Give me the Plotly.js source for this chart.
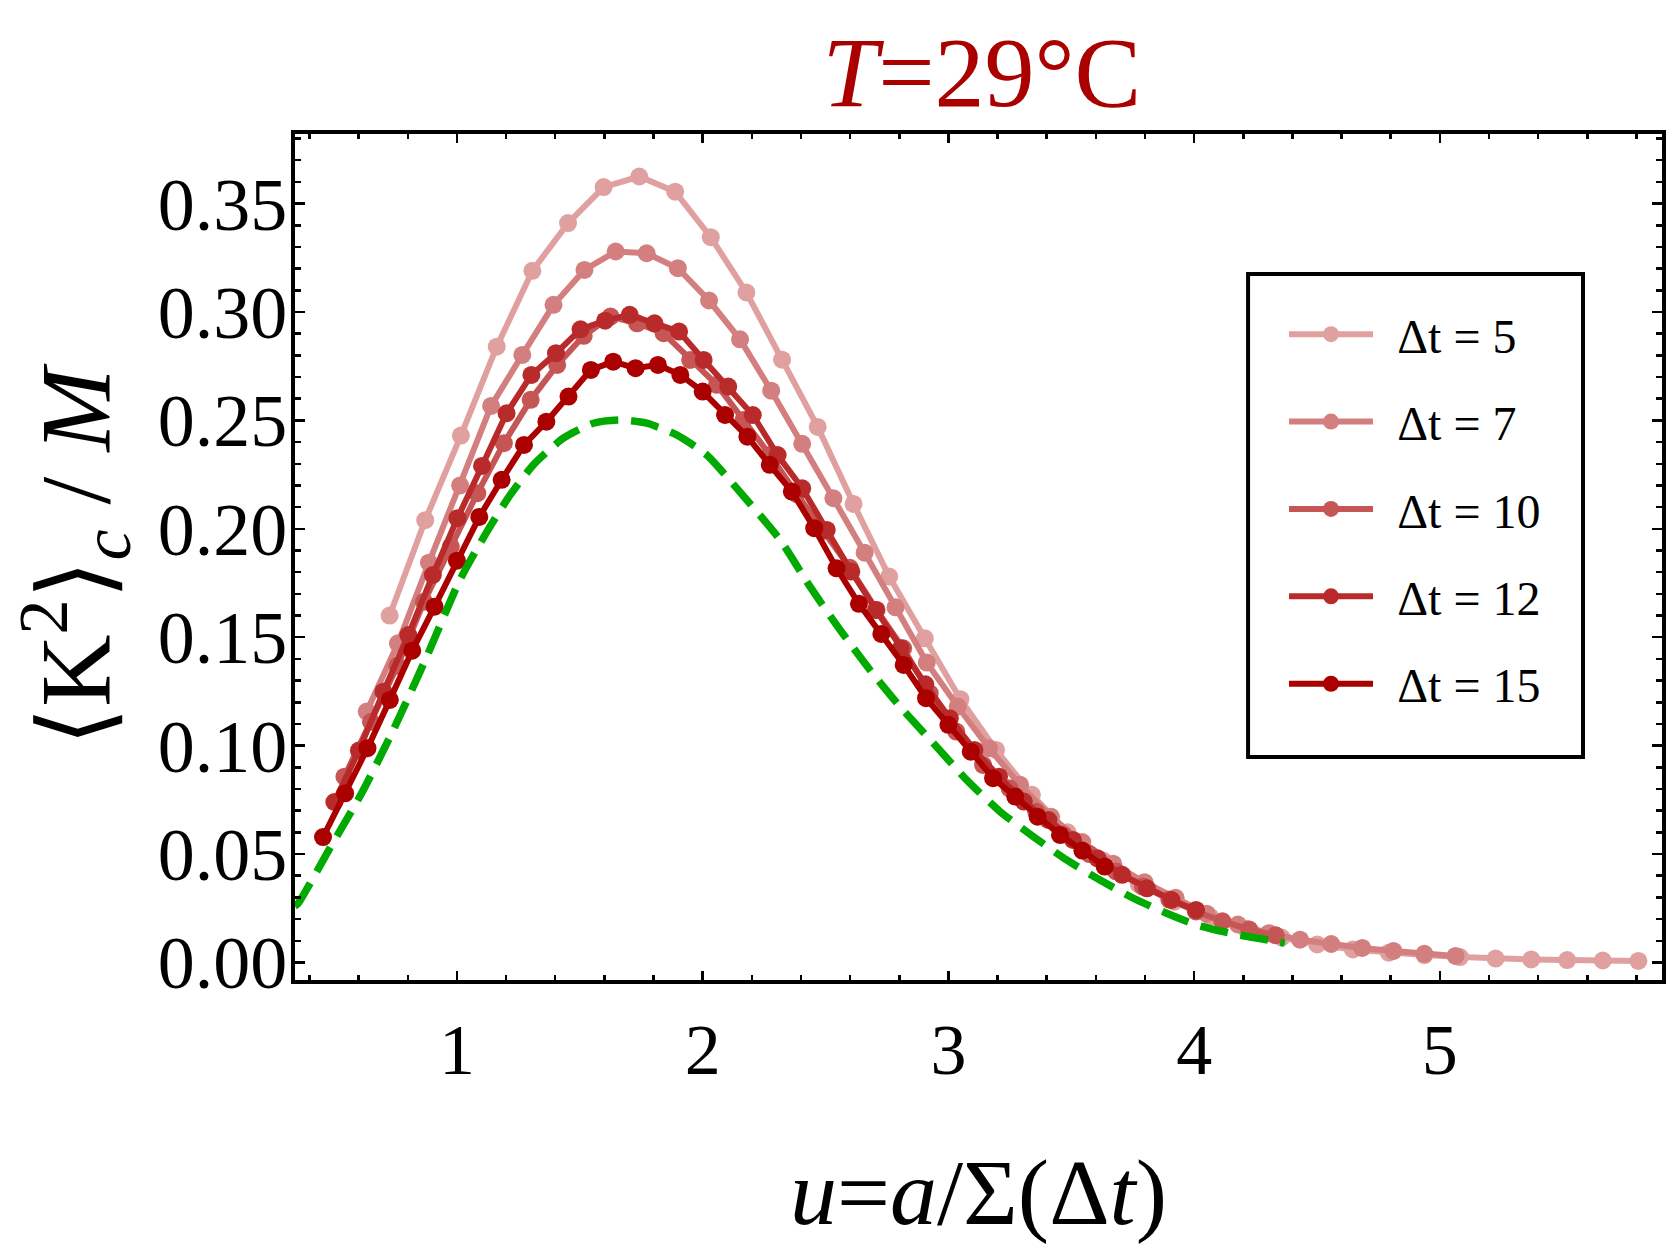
<!DOCTYPE html>
<html>
<head>
<meta charset="utf-8">
<script src="https://cdn.plot.ly/plotly-3.0.1.min.js"></script>
<style>html,body{margin:0;padding:0;background:#fff;}#chart{width:1667px;height:1250px;}</style>
</head>
<body>
<div id="chart"></div>
<script>
// ---- data ----
const seriesNames = ["Δt = 5", "Δt = 7", "Δt = 10", "Δt = 12", "Δt = 15"];

const u5 = [0.726,0.871,1.016,1.162,1.307,1.452,1.597,1.742,1.888,2.033,2.178,2.323,2.468,2.614,2.759,2.904,3.049,3.194,3.340,3.485,3.630,3.775,3.920,4.066,4.211,4.356,4.501,4.646,4.792,4.937,5.082,5.227,5.372,5.518,5.663,5.808];
const k5 = [0.160,0.204,0.243,0.284,0.319,0.341,0.3576,0.3625,0.3555,0.3345,0.309,0.278,0.247,0.2115,0.178,0.1495,0.1214,0.098,0.0773,0.060,0.047,0.036,0.028,0.021,0.0155,0.0115,0.0083,0.0060,0.0045,0.0034,0.0025,0.0018,0.0014,0.0011,0.0009,0.0007];

const u7 = [0.633,0.760,0.886,1.013,1.139,1.266,1.393,1.519,1.646,1.772,1.899,2.026,2.152,2.279,2.405,2.532,2.659,2.785,2.912,3.038,3.165,3.292,3.418,3.545,3.671,3.798,3.925,4.051,4.178,4.304,4.431,4.558,4.684,4.811,4.937,5.064];
const k7 = [0.1157,0.1472,0.1844,0.220,0.2567,0.2802,0.3033,0.3194,0.3279,0.3271,0.3202,0.3053,0.2874,0.2637,0.2392,0.2141,0.189,0.1638,0.1383,0.118,0.0988,0.0819,0.0672,0.0555,0.0455,0.037,0.0298,0.0225,0.0175,0.0135,0.0105,0.0085,0.0067,0.0053,0.0040,0.0030];

const u10 = [0.542,0.650,0.758,0.866,0.975,1.083,1.191,1.300,1.408,1.516,1.625,1.733,1.841,1.949,2.058,2.166,2.274,2.383,2.491,2.599,2.708,2.816,2.924,3.032,3.141,3.249,3.357,3.466,3.574,3.682,3.791,3.899,4.007,4.115,4.224,4.332];
const k10 = [0.0857,0.111,0.1368,0.1664,0.1918,0.2164,0.2395,0.2595,0.2756,0.289,0.2979,0.2948,0.2902,0.2779,0.2664,0.2502,0.2341,0.216,0.199,0.182,0.1626,0.1449,0.1242,0.1065,0.0911,0.0803,0.0695,0.059,0.050,0.042,0.035,0.029,0.0235,0.019,0.0152,0.0125];

const u12 = [0.501,0.601,0.701,0.802,0.902,1.002,1.102,1.202,1.303,1.403,1.503,1.603,1.703,1.804,1.904,2.004,2.104,2.204,2.305,2.405,2.505,2.605,2.705,2.806,2.906,3.006,3.106,3.206,3.307,3.407,3.507,3.607,3.707,3.808,3.908,4.008];
const k12 = [0.074,0.0977,0.1249,0.151,0.1787,0.2049,0.229,0.2533,0.271,0.281,0.292,0.296,0.2987,0.2948,0.291,0.2779,0.2656,0.2525,0.234,0.2187,0.1995,0.1803,0.1626,0.1449,0.1283,0.1126,0.098,0.0857,0.0742,0.0657,0.0565,0.048,0.0404,0.0342,0.0288,0.0242];

const u15 = [0.455,0.545,0.636,0.727,0.818,0.909,1.000,1.091,1.182,1.273,1.364,1.454,1.545,1.636,1.727,1.818,1.909,2.000,2.091,2.182,2.273,2.363,2.454,2.545,2.636,2.727,2.818,2.909,3.000,3.091,3.182,3.272,3.363,3.454,3.545,3.636];
const k15 = [0.0578,0.078,0.0988,0.1211,0.1438,0.1641,0.1853,0.2055,0.2226,0.2387,0.2494,0.261,0.2733,0.2771,0.2741,0.2756,0.271,0.2633,0.2525,0.2425,0.2295,0.2172,0.2003,0.1818,0.1654,0.1515,0.1372,0.1219,0.1096,0.0972,0.085,0.0765,0.0672,0.0588,0.0516,0.0442];

// theory curve (green dashed)
const uTh = [0.34,0.354,0.483,0.612,0.741,0.877,1.012,1.121,1.216,1.311,1.433,1.555,1.663,1.772,1.894,2.016,2.125,2.315,2.437,2.559,2.681,2.803,2.939,3.074,3.21,3.346,3.481,3.617,3.753,3.888,4.01,4.177,4.31,4.369];
const kTh = [0.026,0.0273,0.0527,0.078,0.1072,0.141,0.1764,0.1985,0.2155,0.2295,0.2418,0.2487,0.2502,0.2487,0.2433,0.2341,0.2205,0.1949,0.1733,0.1534,0.1349,0.118,0.1011,0.0842,0.0696,0.058,0.0473,0.038,0.0296,0.0227,0.0173,0.0128,0.0102,0.0089];

const xTickVals = [1,2,3,4,5];
const yTickVals = [0,0.05,0.10,0.15,0.20,0.25,0.30,0.35];

// ---- styles ----
const colors = ["#e0a0a0", "#d47f7f", "#c65555", "#b92b2b", "#aa0000"];
const xs = [u5, u7, u10, u12, u15];
const ys = [k5, k7, k10, k12, k15];
const FONT = "Liberation Serif, Times New Roman, serif";
const GAP = "\u2009\u2009";

const traces = [];
for (let i = 0; i < 5; i++) {
  traces.push({
    x: xs[i], y: ys[i], type: "scatter", mode: "lines+markers",
    name: GAP + seriesNames[i], legendgroup: "g" + i,
    line: {color: colors[i], width: 6},
    marker: {color: colors[i], size: 18},
    cliponaxis: true
  });
}
traces.push({
  x: uTh, y: kTh, type: "scatter", mode: "lines", showlegend: false,
  line: {color: "#00aa00", width: 7.5, dash: "28px,13px", shape: "spline", smoothing: 0.6}
});

const axisCommon = {
  showline: true, linecolor: "black", linewidth: 4, mirror: "allticks",
  ticks: "inside", tickcolor: "black", tickwidth: 2.5,
  showgrid: false, zeroline: false
};

const layout = {
  width: 1667, height: 1250,
  paper_bgcolor: "white", plot_bgcolor: "white",
  margin: {l: 295, r: 5, t: 134, b: 270},
  showlegend: true,
  title: {
    text: "<i>T</i>=29°C",
    font: {family: FONT, size: 100, color: "#aa0000"},
    x: 0.589, xanchor: "center", y: 0.943, yanchor: "middle"
  },
  xaxis: Object.assign({}, axisCommon, {
    range: [0.341, 5.904],
    tickvals: xTickVals, ticklen: 9,
    tickfont: {family: FONT, size: 72, color: "black"},
    ticklabelstandoff: 4,
    minor: {dtick: 0.2, tick0: 0, ticklen: 5, tickcolor: "black", tickwidth: 2.5, ticks: "inside"},
    title: {text: "<i>u</i>=<i>a</i>/Σ(Δ<i>t</i>)", font: {family: FONT, size: 94, color: "black"}, standoff: 70}
  }),
  yaxis: Object.assign({}, axisCommon, {
    range: [-0.0081, 0.3821],
    tickvals: yTickVals, tickformat: ".2f", ticklen: 10,
    tickfont: {family: FONT, size: 74, color: "black"},
    ticklabelstandoff: -11,
    minor: {dtick: 0.01, tick0: 0, ticklen: 6, tickcolor: "black", tickwidth: 2.5, ticks: "inside"},
    title: {text: "⟨K<sup>2</sup>⟩<sub><i>c</i></sub> / <i>M</i>", font: {family: FONT, size: 100, color: "black"}, standoff: 16}
  }),
  shapes: [{
    type: "rect", xref: "paper", yref: "paper",
    x0: 0.6972, x1: 0.9422, y0: 0.2636, y1: 0.8345,
    line: {color: "black", width: 4}, fillcolor: "white", layer: "above"
  }],
  legend: {
    x: 0.7235, y: 0.808, xanchor: "left", yanchor: "top",
    bgcolor: "rgba(0,0,0,0)", borderwidth: 0,
    font: {family: FONT, size: 48, color: "black"},
    itemwidth: 84, tracegroupgap: 22, traceorder: "grouped"
  }
};

Plotly.newPlot("chart", traces, layout, {displayModeBar: false, staticPlot: true});
</script>
</body>
</html>
